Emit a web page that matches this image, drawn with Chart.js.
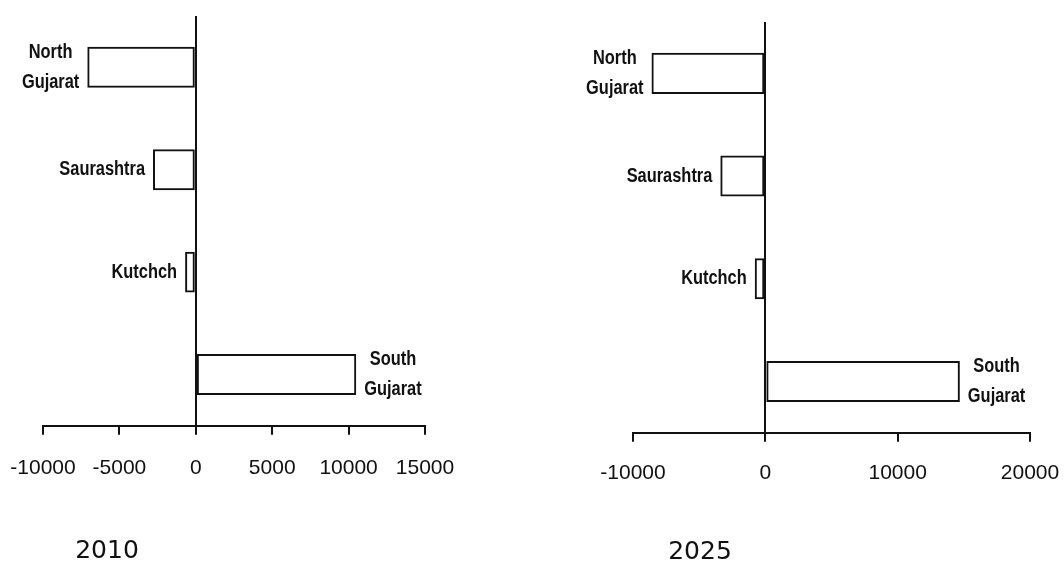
<!DOCTYPE html>
<html>
<head>
<meta charset="utf-8">
<script src="https://cdn.jsdelivr.net/npm/chart.js@4/dist/chart.umd.min.js"></script>
<style>
  html,body{margin:0;padding:0;background:#fff;}
  #wrap{position:relative;width:1064px;height:563px;overflow:hidden;}
  .box{position:absolute;top:0;width:532px;height:563px;}
  #box1{left:0;}
  #box2{left:532px;}
  .year{position:absolute;font-family:"DejaVu Sans",sans-serif;font-size:25px;line-height:1;color:#111;transform:translate(-50%,-50%);}
</style>
</head>
<body>
<div id="wrap">
  <div class="box" id="box1"><canvas id="c2010"></canvas></div>
  <div class="box" id="box2"><canvas id="c2025"></canvas></div>
  <div class="year" style="left:107px;top:549px;">2010</div>
  <div class="year" style="left:700px;top:550px;">2025</div>
</div>
<script>
/* ---------- data ---------- */
const regions    = [["North","Gujarat"], ["Saurashtra"], ["Kutchch"], ["South","Gujarat"]];
const values2010 = [-7100, -2800, -700, 10500];
const values2025 = [-8600, -3400, -800, 14700];
const ticks2010  = [-10000, -5000, 0, 5000, 10000, 15000];
const ticks2025  = [-10000, 0, 10000, 20000];

const INK = "#111";
const FONT = '"Liberation Sans",Arial,sans-serif';
const SQUEEZE = 0.82;   // the scan uses a narrow face

// region names next to the end of each bar
const sideLabels = {
  id: "sideLabels",
  afterDatasetsDraw(chart){
    const ctx = chart.ctx;
    const meta = chart.getDatasetMeta(0);
    const vals = chart.data.datasets[0].data;
    ctx.save();
    ctx.font = "bold 20px " + FONT;
    ctx.fillStyle = INK;
    ctx.textAlign = "center";
    ctx.textBaseline = "middle";
    meta.data.forEach((bar,i)=>{
      const lines = chart.data.labels[i];
      const w = Math.max(...lines.map(t=>ctx.measureText(t).width)) * SQUEEZE;
      const cx = vals[i] < 0 ? bar.x - 8 - w/2 : bar.x + 8 + w/2;
      lines.forEach((t,j)=>{
        ctx.save();
        ctx.translate(cx, bar.y + (j - (lines.length-1)/2)*30);
        ctx.scale(SQUEEZE, 1);
        ctx.fillText(t, 0, 0);
        ctx.restore();
      });
    });
    ctx.restore();
  }
};

const makeChart = (id, values, ticks, pad, tickPad) => {
  return new Chart(document.getElementById(id), {
    type: "bar",
    data: {
      labels: regions,
      datasets: [{
        data: values,
        backgroundColor: "rgba(255,255,255,0)",
        borderColor: INK,
        borderWidth: 2,
        borderSkipped: false,
        barPercentage: 0.4,
        categoryPercentage: 1
      }]
    },
    options: {
      indexAxis: "y",
      responsive: true,
      maintainAspectRatio: false,
      animation: false,
      layout: { padding: pad },
      plugins: { legend: {display:false}, tooltip: {enabled:false} },
      scales: {
        x: {
          type: "linear",
          min: ticks[0],
          max: ticks[ticks.length-1],
          afterBuildTicks: s => { s.ticks = ticks.map(v=>({value:v})); },
          afterFit: s => { s.paddingLeft = 0; s.paddingRight = 0; },
          border: { display:true, color:INK, width:2 },
          grid: {
            color: c => (c.tick && c.tick.value === 0) ? INK : "rgba(0,0,0,0)",
            lineWidth: 2,
            drawTicks: true,
            tickLength: 9,
            tickColor: INK,
            tickWidth: 2
          },
          ticks: {
            autoSkip: false,
            maxRotation: 0,
            padding: tickPad,
            color: INK,
            font: { family: FONT, size: 21 },
            callback: v => String(v)
          }
        },
        y: { display: false }
      }
    },
    plugins: [sideLabels]
  });
};

makeChart("c2010", values2010, ticks2010, {left:43, right:107, top:16, bottom:61}, 21);
makeChart("c2025", values2025, ticks2025, {left:101, right:34, top:22, bottom:58}, 19);
</script>
</body>
</html>
